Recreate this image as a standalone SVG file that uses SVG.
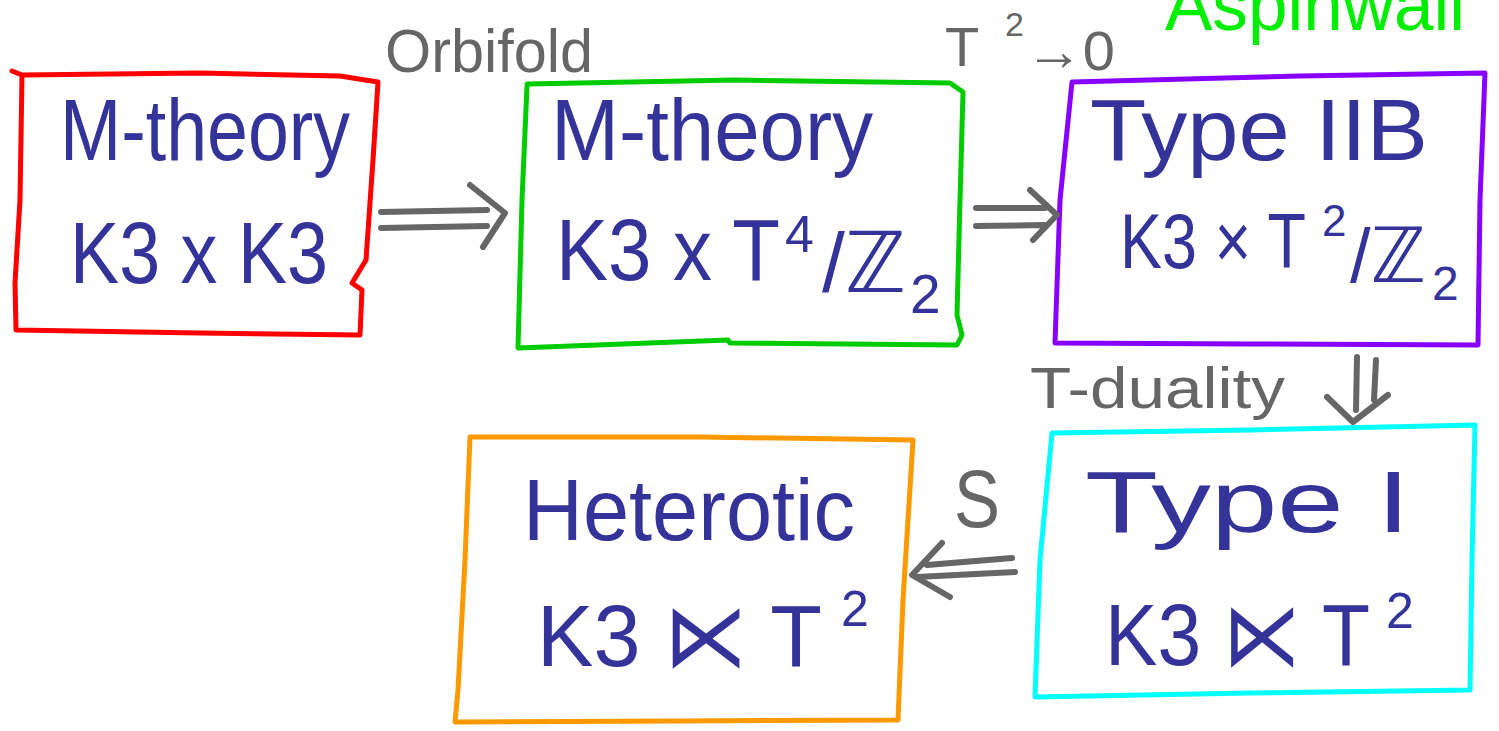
<svg xmlns="http://www.w3.org/2000/svg" width="1499" height="731" viewBox="0 0 1499 731">
<style>
.box{fill:none;stroke-width:5;stroke-linejoin:round;stroke-linecap:round}
.t{font-family:"Liberation Sans","DejaVu Sans",sans-serif;fill:#333399}
.g{font-family:"Liberation Sans","DejaVu Sans",sans-serif;fill:#666666}
.arr{fill:none;stroke:#666666;stroke-width:6;stroke-linecap:round;stroke-linejoin:round}
</style>
<rect width="1499" height="731" fill="#ffffff"/>
<text class="t" x="1165" y="30" font-size="72" textLength="300" lengthAdjust="spacingAndGlyphs" style="fill:#00ee00">Aspinwall</text>

<g id="node-mtheory-k3k3">
<path class="box" stroke="#ff0000" d="M12,71 L22,75 L200,73 L340,76 L378,82 L373,160 L366,260 L352,283 L362,290 L360,335 L200,333 L16,330 L15,283 L20,200 L22,75"/>
<text class="t" x="60" y="160" font-size="88" textLength="290" lengthAdjust="spacingAndGlyphs">M-theory</text>
<text class="t" x="70" y="283" font-size="88" textLength="258" lengthAdjust="spacingAndGlyphs">K3 x K3</text>
</g>

<g id="node-mtheory-k3t4">
<path class="box" stroke="#00cc00" d="M527,84 L735,80 L950,83 L963,92 L960,200 L957,315 L962,335 L957,345 L730,343 L728,340 L518,348 L522,200 L527,86"/>
<text class="t" x="551" y="160" font-size="88" textLength="322" lengthAdjust="spacingAndGlyphs">M-theory</text>
<text class="t" x="556" y="280" font-size="88" textLength="224" lengthAdjust="spacingAndGlyphs">K3 x T</text>
<text class="t" x="785" y="252" font-size="52">4</text>
<text class="t" x="822" y="292" font-size="84" textLength="84" lengthAdjust="spacingAndGlyphs">/ℤ</text>
<text class="t" x="910" y="313" font-size="55">2</text>
</g>

<g id="node-typeiib">
<path class="box" stroke="#8800ff" d="M1072,82 L1300,76 L1485,73 L1480,200 L1478,345 L1250,344 L1055,343 L1060,200 L1072,82"/>
<text class="t" x="1090" y="160" font-size="88" textLength="338" lengthAdjust="spacingAndGlyphs">Type IIB</text>
<text class="t" x="1120" y="268" font-size="78" textLength="186" lengthAdjust="spacingAndGlyphs">K3 × T</text>
<text class="t" x="1322" y="236" font-size="44">2</text>
<text class="t" x="1350" y="282" font-size="76" textLength="76" lengthAdjust="spacingAndGlyphs">/ℤ</text>
<text class="t" x="1432" y="300" font-size="48">2</text>
</g>

<g id="node-typei">
<path class="box" stroke="#00ffff" d="M1052,433 L1250,430 L1475,425 L1472,560 L1470,690 L1250,693 L1035,697 L1040,560 L1052,433"/>
<text class="t" x="1085" y="532" font-size="88" textLength="325" lengthAdjust="spacingAndGlyphs">Type I</text>
<text class="t" x="1105" y="665" font-size="88" textLength="265" lengthAdjust="spacingAndGlyphs">K3 ⋉ T</text>
<text class="t" x="1386" y="628" font-size="50">2</text>
</g>

<g id="node-heterotic">
<path class="box" stroke="#ff9900" d="M470,437 L700,437 L913,440 L903,600 L898,720 L680,721 L455,722 L458,690 L465,560 L470,437"/>
<text class="t" x="523" y="540" font-size="88" textLength="332" lengthAdjust="spacingAndGlyphs">Heterotic</text>
<text class="t" x="537" y="666" font-size="88" textLength="285" lengthAdjust="spacingAndGlyphs">K3 ⋉ T</text>
<text class="t" x="841" y="626" font-size="50">2</text>
</g>

<g id="connectors">
<g id="edge-orbifold">
<path class="arr" d="M381,212 L487,210 M381,228 L487,226 M470,185 L505,213 L483,247"/>
<text class="g" x="385" y="72" font-size="62" textLength="208" lengthAdjust="spacingAndGlyphs">Orbifold</text>
</g>
<g id="edge-t2">
<path class="arr" d="M976,208 L1045,208 M976,226 L1045,225 M1030,190 L1057,215 L1033,240"/>
<text class="g" x="945" y="66" font-size="56">T</text>
<text class="g" x="1005" y="36" font-size="34">2</text>
<text class="g" x="1025" y="70" font-size="56" textLength="90" lengthAdjust="spacingAndGlyphs">→0</text>
</g>
<g id="edge-tduality">
<path class="arr" d="M1357,357 L1356,410 M1376,360 L1374,400 M1327,397 L1353,422 L1388,395"/>
<text class="g" x="1030" y="408" font-size="58" textLength="255" lengthAdjust="spacingAndGlyphs">T-duality</text>
</g>
<g id="edge-s">
<path class="arr" d="M927,565 L1012,558 M917,577 L1015,572 M942,543 L912,575 L950,597"/>
<text class="g" x="954" y="527" font-size="82" textLength="46" lengthAdjust="spacingAndGlyphs">S</text>
</g>
</g>
</svg>
